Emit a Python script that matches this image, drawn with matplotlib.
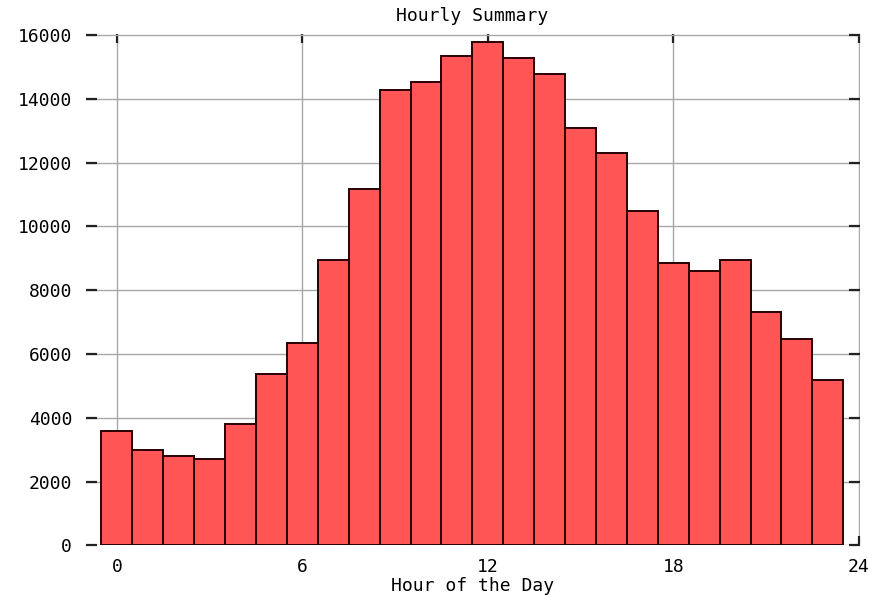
import matplotlib.pyplot as plt
import numpy as np

# hourly counts
hours = np.arange(24)
counts = [3580, 2980, 2810, 2700, 3800, 5370, 6350, 8940,
          11160, 14290, 14520, 15330, 15780, 15290, 14790, 13080,
          12300, 10490, 8840, 8600, 8930, 7330, 6460, 5180]
xticks = [0, 6, 12, 18, 24]
yticks = [0, 2000, 4000, 6000, 8000, 10000, 12000, 14000, 16000]

font = 'DejaVu Sans Mono'
fsize = 13

fig = plt.figure(figsize=(8.7, 5.97), dpi=100)
ax = fig.add_axes([0.0989, 0.0866, 0.9885 - 0.0989, 0.9425 - 0.0866])

ax.bar(hours, counts, width=1.0, color='#ff5555', edgecolor='#2a0000',
       linewidth=1.4, zorder=2)

# tiny extra room so the gridlines on x=24 and y=16000 are not clipped
ax.set_xlim(-1, 24.04)
ax.set_ylim(0, 16020)
ax.set_xticks(xticks)
ax.set_yticks(yticks)
ax.set_xticklabels([str(t) for t in xticks], fontfamily=font, fontsize=fsize)
ax.set_yticklabels([str(t) for t in yticks], fontfamily=font, fontsize=fsize)

# gnuplot-ish look: no border, grey grid, inward ticks on all sides
for s in ax.spines.values():
    s.set_visible(False)
ax.set_axisbelow(True)
ax.grid(True, color='#a8a8a8', linewidth=1.0)
ax.tick_params(axis='y', direction='in', length=8, width=1.6, color='#222222',
               pad=10, left=True, right=True)
ax.tick_params(axis='x', direction='in', length=6.5, width=1.6, color='#222222',
               pad=9, top=True, bottom=True)

# title placed in figure coords, the axes title kept drifting onto the frame
fig.text(0.5425, 1 - 16 / 597, 'Hourly Summary', fontfamily=font,
         fontsize=fsize, ha='center', va='center')
ax.set_xlabel('Hour of the Day', fontfamily=font, fontsize=fsize, labelpad=1)

plt.savefig('out.png', dpi=100)
